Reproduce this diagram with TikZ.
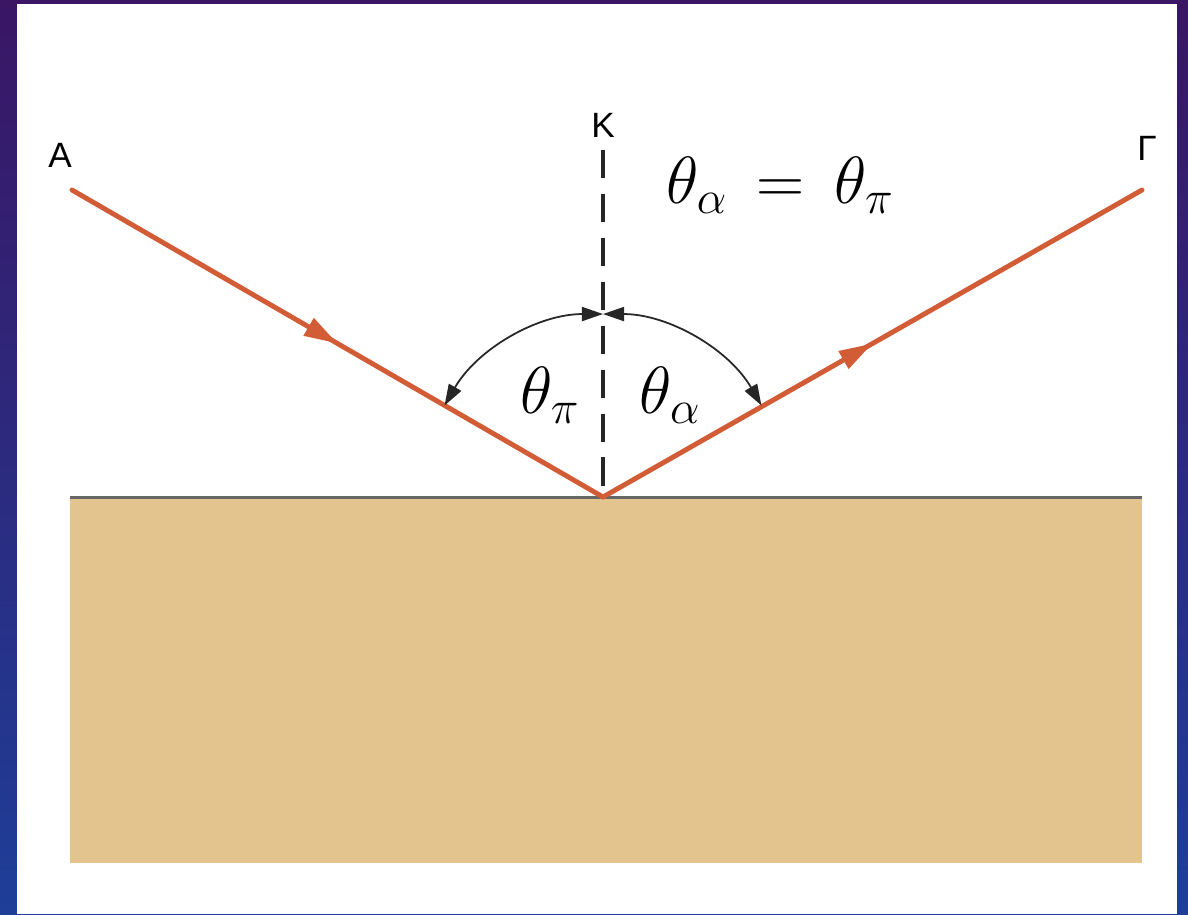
\documentclass[tikz,border=0pt]{standalone}
\usepackage{fix-cm}
\usepackage{fontspec}
\newfontfamily\labelfont{Liberation Sans}
\usetikzlibrary{arrows.meta,decorations.markings,positioning}

\definecolor{raycol}{HTML}{D25C36}
\definecolor{sand}{HTML}{E3C48F}
\definecolor{slidetop}{HTML}{3A1665}
\definecolor{slidebot}{HTML}{1E3E98}

\tikzset{
  ray/.style={raycol, line width=2.8pt, line cap=round, postaction={decorate},
    decoration={markings, mark=at position 0.5 with {\arrow[raycol]{Triangle[length=19pt,width=11pt]}}}},
  anglearc/.style={black!85, line width=1pt, {Triangle[length=12pt,width=8pt]}-{Triangle[length=12pt,width=8pt]}},
  lbl/.style={font=\labelfont\fontsize{20}{22}\selectfont, inner sep=0pt},
  angtxt/.style={font=\fontsize{38}{40}\selectfont, inner sep=0pt}
}

\begin{document}
\begin{tikzpicture}[x=0.02cm,y=-0.02cm]

% Slide background and white panel
\shade[top color=slidetop, bottom color=slidebot] (0,0) rectangle (1188,914);
\fill[white] (17,4) rectangle (1177,914);
\useasboundingbox (0,0) rectangle (1188,914);

% Mirror surface
\fill[sand] (70,497) rectangle (1142,863);
\draw[black!60, line width=1.7pt] (70,497) -- (1142,497);

% Points on the rays
\coordinate (start) at (72,190);
\coordinate (p) at (603,497);
\coordinate (finish) at (1142,190);
\coordinate (ntop) at (603,150);

% Normal line
\draw[black!85, line width=2.2pt, dash pattern=on 16pt off 9pt] (ntop) -- (p);

% Incident and reflected rays
\draw[ray] (start) -- (p);
\draw[ray] (p) -- (finish);

% Angles
\draw[anglearc] (p) ++(150:3.66cm) arc[start angle=150, end angle=90, radius=3.66cm];
\draw[anglearc] (p) ++(30:3.66cm) arc[start angle=30, end angle=90, radius=3.66cm];

% Labels
\node[lbl] (labA) at (60,155) {A};
\node[lbl] (labK) at (603,125) {K};
\node[lbl] (labG) at (1147,148) {Γ};

\node[angtxt] (thpi) at (550,395) {$\theta_\pi$};
\node[angtxt] (thal) at (670,395) {$\theta_\alpha$};
\node[angtxt] (law) at (780,185) {$\theta_\alpha \,=\, \theta_\pi$};

\end{tikzpicture}
\end{document}
